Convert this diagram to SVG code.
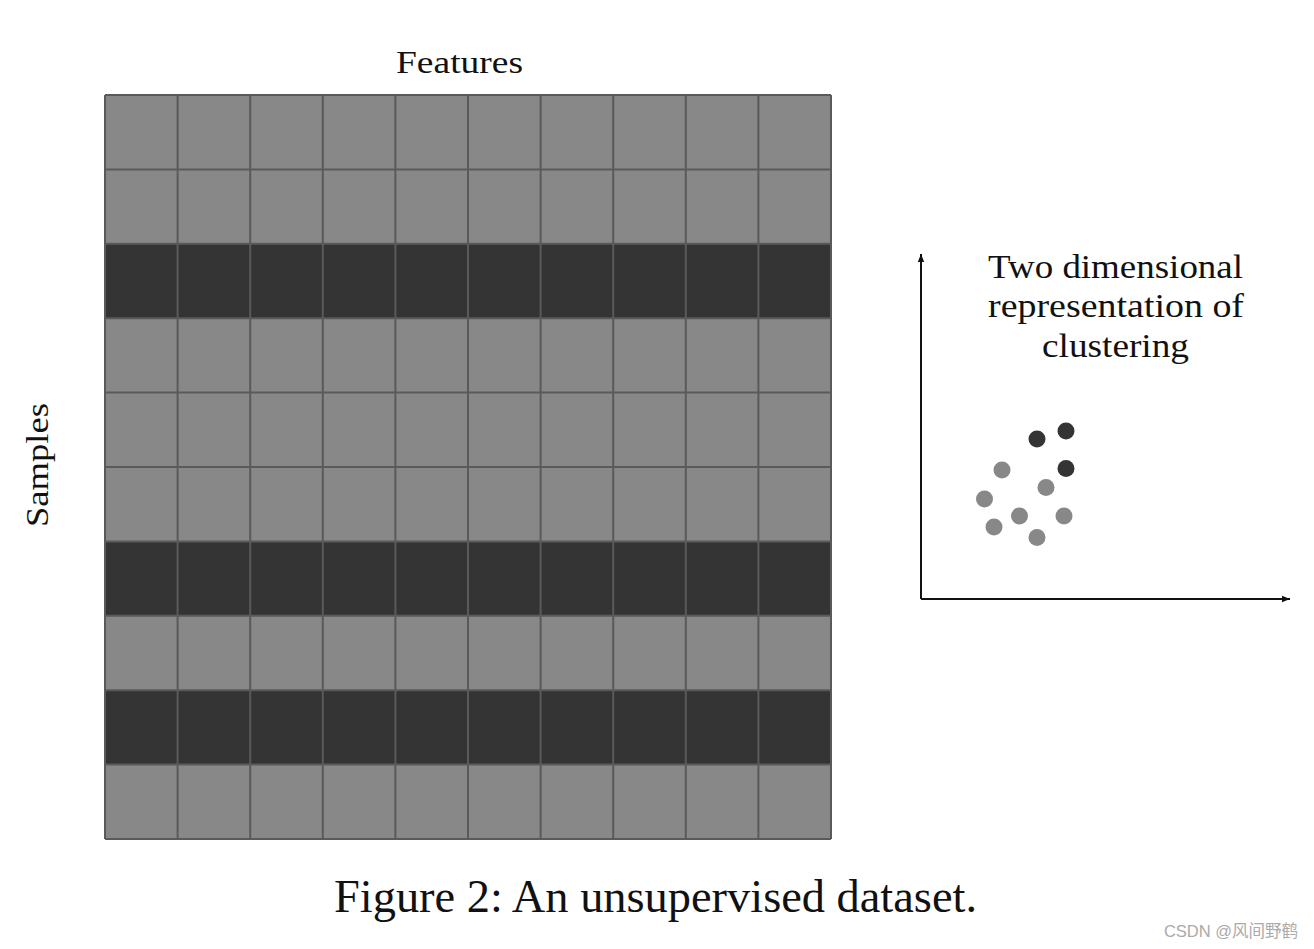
<svg xmlns="http://www.w3.org/2000/svg" width="1314" height="949" viewBox="0 0 1314 949">
<defs>
<style>
.l{fill:#888}.d{fill:#343434}
.ser{font-family:"Liberation Serif","DejaVu Serif",serif;fill:#111}
.gl{stroke:#5a5a5a;stroke-width:2;fill:none}
.ax{stroke:#111;stroke-width:2;fill:none}
</style>
<marker id="ah" viewBox="0 0 10 10" refX="10" refY="5" markerWidth="8" markerHeight="8" orient="auto" markerUnits="userSpaceOnUse"><path d="M0,1 L10,5 L0,9 z" fill="#111"/></marker>
</defs>
<rect width="1314" height="949" fill="#fff"/>
<g id="grid">
<rect x="105" y="95" width="726" height="744" class="l"/>
<rect x="105" y="243.8" width="726" height="74.4" class="d"/>
<rect x="105" y="541.4" width="726" height="74.4" class="d"/>
<rect x="105" y="690.2" width="726" height="74.4" class="d"/>
<path class="gl" d="M105,95V839M177.6,95V839M250.2,95V839M322.8,95V839M395.4,95V839M468,95V839M540.6,95V839M613.2,95V839M685.8,95V839M758.4,95V839M831,95V839M105,95H831M105,169.4H831M105,243.8H831M105,318.2H831M105,392.6H831M105,467H831M105,541.4H831M105,615.8H831M105,690.2H831M105,764.6H831M105,839H831"/>
</g>
<g id="labels">
<text class="ser" x="396" y="73" font-size="32" textLength="127" lengthAdjust="spacingAndGlyphs">Features</text>
<text class="ser" transform="translate(48,527) rotate(-90)" font-size="32" textLength="124" lengthAdjust="spacingAndGlyphs">Samples</text>
<text class="ser" x="988" y="278" font-size="33" textLength="255" lengthAdjust="spacingAndGlyphs">Two dimensional</text>
<text class="ser" x="988" y="317" font-size="33" textLength="256" lengthAdjust="spacingAndGlyphs">representation of</text>
<text class="ser" x="1042" y="357" font-size="33" textLength="147" lengthAdjust="spacingAndGlyphs">clustering</text>
<text class="ser" x="334" y="912" font-size="46" textLength="643" lengthAdjust="spacingAndGlyphs">Figure 2: An unsupervised dataset.</text>
<text x="1298" y="937" font-size="16.5" text-anchor="end" fill="#aaa" font-family="'Liberation Sans','Noto Sans CJK SC',sans-serif">CSDN @风间野鹤</text>
</g>
<g id="connectors">
<path class="ax" d="M921,599V254" marker-end="url(#ah)"/>
<path class="ax" d="M921,599H1290" marker-end="url(#ah)"/>
</g>
<g id="points">
<circle cx="1037" cy="439" r="8.5" class="d"/>
<circle cx="1066" cy="431" r="8.5" class="d"/>
<circle cx="1066" cy="468.5" r="8.5" class="d"/>
<circle cx="1002" cy="470" r="8.5" class="l"/>
<circle cx="984.5" cy="499" r="8.5" class="l"/>
<circle cx="1046" cy="487.5" r="8.5" class="l"/>
<circle cx="1019.5" cy="516" r="8.5" class="l"/>
<circle cx="1064" cy="516" r="8.5" class="l"/>
<circle cx="994" cy="527" r="8.5" class="l"/>
<circle cx="1037" cy="537.5" r="8.5" class="l"/>
</g>
</svg>
